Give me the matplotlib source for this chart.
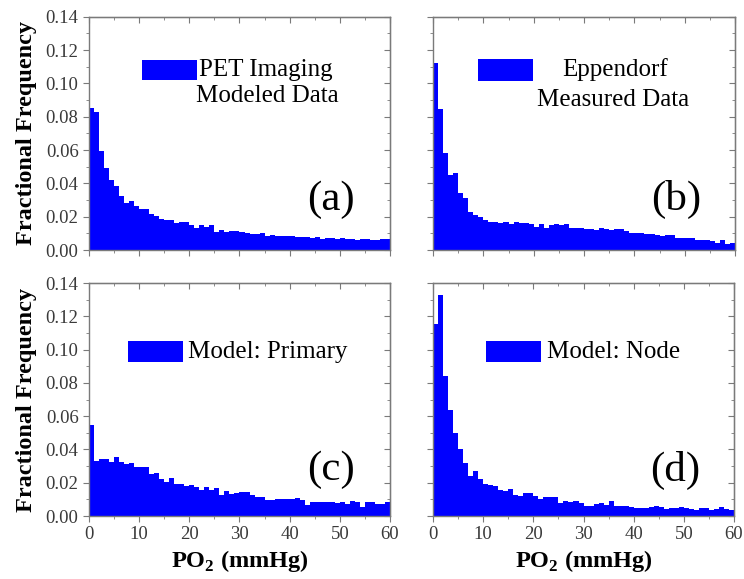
import numpy as np
import matplotlib
matplotlib.use("Agg")
import matplotlib.pyplot as plt
from matplotlib.patches import Rectangle
from matplotlib.ticker import MultipleLocator

plt.rcParams['font.family'] = ['Liberation Serif', 'DejaVu Serif']
plt.rcParams['mathtext.fontset'] = 'custom'
plt.rcParams['mathtext.rm'] = 'Liberation Serif'
plt.rcParams['mathtext.bf'] = 'Liberation Serif:bold'

# 1 mmHg bins, 0..60
bin_edges = np.arange(0, 61, 1)

pet_modeled = [0.085, 0.083, 0.0594, 0.049, 0.042, 0.0384, 0.0324, 0.0284, 0.0294, 0.0264,
               0.0246, 0.0246, 0.0216, 0.0204, 0.0186, 0.018, 0.018, 0.016, 0.017, 0.0166,
               0.015, 0.013, 0.015, 0.014, 0.015, 0.0106, 0.012, 0.011, 0.0114, 0.0114,
               0.011, 0.0104, 0.0098, 0.0094, 0.010, 0.0084, 0.0092, 0.0084, 0.0082, 0.0082,
               0.0084, 0.0078, 0.0078, 0.008, 0.0072, 0.0078, 0.0068, 0.0072, 0.0072, 0.0068,
               0.007, 0.0066, 0.0068, 0.006, 0.0068, 0.0064, 0.006, 0.0062, 0.0066, 0.0064]

eppendorf_measured = [0.112, 0.0846, 0.058, 0.0448, 0.0464, 0.0344, 0.0314, 0.0226, 0.0208, 0.020,
                      0.018, 0.0166, 0.0168, 0.0162, 0.0166, 0.0158, 0.0166, 0.0164, 0.0164, 0.0158,
                      0.014, 0.0156, 0.0132, 0.0152, 0.0154, 0.015, 0.0156, 0.0134, 0.013, 0.013,
                      0.0124, 0.0124, 0.012, 0.0132, 0.0126, 0.012, 0.0124, 0.0128, 0.0116, 0.0104,
                      0.0104, 0.0102, 0.0096, 0.0094, 0.009, 0.0084, 0.0088, 0.0088, 0.007, 0.007,
                      0.0074, 0.0074, 0.006, 0.0058, 0.0058, 0.0056, 0.0044, 0.006, 0.0036, 0.0044]

model_primary = [0.0548, 0.0329, 0.0343, 0.0343, 0.0327, 0.0357, 0.0325, 0.0313, 0.0317, 0.0297,
                 0.0297, 0.0297, 0.0253, 0.0261, 0.0225, 0.0207, 0.0231, 0.0195, 0.0191, 0.018,
                 0.0184, 0.0176, 0.0156, 0.0174, 0.0156, 0.0166, 0.0126, 0.0152, 0.013, 0.0138,
                 0.0144, 0.0146, 0.0128, 0.0112, 0.0112, 0.0096, 0.0096, 0.010, 0.0104, 0.010,
                 0.010, 0.0106, 0.0096, 0.0064, 0.0084, 0.0086, 0.0084, 0.0086, 0.0082, 0.008,
                 0.0084, 0.0074, 0.009, 0.0082, 0.0056, 0.0084, 0.0084, 0.007, 0.007, 0.0082]

model_node = [0.1155, 0.1328, 0.0842, 0.0638, 0.0497, 0.0401, 0.0317, 0.0243, 0.0269, 0.0223,
              0.0191, 0.0187, 0.018, 0.0156, 0.0148, 0.0162, 0.0128, 0.0122, 0.014, 0.0136,
              0.012, 0.010, 0.0112, 0.0112, 0.0112, 0.008, 0.009, 0.0084, 0.009, 0.0078,
              0.0062, 0.006, 0.007, 0.008, 0.0066, 0.0092, 0.006, 0.006, 0.006, 0.0056,
              0.005, 0.0048, 0.0048, 0.0056, 0.006, 0.0056, 0.0042, 0.005, 0.005, 0.0054,
              0.0048, 0.0042, 0.0038, 0.0048, 0.0048, 0.0038, 0.004, 0.0054, 0.0044, 0.0036]

panels = [
    # values, legend lines, letter, axes rect
    (pet_modeled, ['PET Imaging', 'Modeled Data'], '(a)', [0.1196, 0.5682, 0.4046, 0.403]),
    (eppendorf_measured, ['Eppendorf', 'Measured Data'], '(b)', [0.582, 0.5682, 0.406, 0.403]),
    (model_primary, ['Model: Primary'], '(c)', [0.1196, 0.1088, 0.4046, 0.4024]),
    (model_node, ['Model: Node'], '(d)', [0.582, 0.1088, 0.4046, 0.4024]),
]

bar_color = '#0000ff'
axis_gray = '#7a7a7a'
tick_gray = '#3a3a3a'
leg_size = 18

fig = plt.figure(figsize=(7.44, 5.79), dpi=100)

for i, (vals, leg_lines, letter, rect) in enumerate(panels):
    ax = fig.add_axes(rect)
    ax.stairs(vals, bin_edges, fill=True, color=bar_color, linewidth=0)
    ax.set_xlim(0, 60)
    ax.set_ylim(0, 0.14)

    ax.xaxis.set_major_locator(MultipleLocator(10))
    ax.xaxis.set_minor_locator(MultipleLocator(5))
    ax.yaxis.set_major_locator(MultipleLocator(0.02))
    ax.yaxis.set_minor_locator(MultipleLocator(0.01))
    ax.yaxis.set_major_formatter(plt.FormatStrFormatter('%.2f'))
    ax.tick_params(which='both', direction='out', colors=axis_gray, labelcolor=tick_gray,
                   labelsize=13.5)
    ax.tick_params(which='major', length=4)
    ax.tick_params(which='minor', length=2.5)
    for s in ax.spines.values():
        s.set_color(axis_gray)
        s.set_linewidth(1.0)

    # mirrored inward ticks on top and right
    top = ax.secondary_xaxis('top')
    top.xaxis.set_major_locator(MultipleLocator(10))
    top.xaxis.set_minor_locator(MultipleLocator(5))
    top.tick_params(which='both', direction='in', colors=axis_gray, labeltop=False)
    top.tick_params(which='major', length=4)
    top.tick_params(which='minor', length=2.5)
    right = ax.secondary_yaxis('right')
    right.yaxis.set_major_locator(MultipleLocator(0.02))
    right.yaxis.set_minor_locator(MultipleLocator(0.01))
    right.tick_params(which='both', direction='in', colors=axis_gray, labelright=False)
    right.tick_params(which='major', length=4)
    right.tick_params(which='minor', length=2.5)

    if i < 2:
        ax.tick_params(labelbottom=False)
    else:
        ax.set_xlabel(r'PO$_\mathbf{2}$ (mmHg)', fontsize=17.5, fontweight='bold', labelpad=3)
    if i % 2 == 1:
        ax.tick_params(labelleft=False)
    else:
        ax.set_ylabel('Fractional Frequency', fontsize=17.5, fontweight='bold', labelpad=6)

    # legend-like key
    if i == 0:
        ax.add_patch(Rectangle((0.176, 0.730), 0.183, 0.085, transform=ax.transAxes,
                               color=bar_color, lw=0))
        ax.text(0.365, 0.773, leg_lines[0], transform=ax.transAxes, fontsize=leg_size,
                ha='left', va='center')
        ax.text(0.591, 0.661, leg_lines[1], transform=ax.transAxes, fontsize=leg_size,
                ha='center', va='center')
    elif i == 1:
        ax.add_patch(Rectangle((0.149, 0.725), 0.182, 0.095, transform=ax.transAxes,
                               color=bar_color, lw=0))
        ax.text(0.603, 0.773, leg_lines[0], transform=ax.transAxes, fontsize=leg_size,
                ha='center', va='center')
        ax.text(0.596, 0.644, leg_lines[1], transform=ax.transAxes, fontsize=leg_size,
                ha='center', va='center')
    elif i == 2:
        ax.add_patch(Rectangle((0.130, 0.662), 0.182, 0.090, transform=ax.transAxes,
                               color=bar_color, lw=0))
        ax.text(0.329, 0.705, leg_lines[0], transform=ax.transAxes, fontsize=leg_size,
                ha='left', va='center')
    else:
        ax.add_patch(Rectangle((0.176, 0.662), 0.183, 0.090, transform=ax.transAxes,
                               color=bar_color, lw=0))
        ax.text(0.378, 0.705, leg_lines[0], transform=ax.transAxes, fontsize=leg_size,
                ha='left', va='center')

    ly = 0.215 if i < 2 else 0.197
    ax.text(0.805, ly, letter, transform=ax.transAxes, fontsize=31,
            ha='center', va='center')

fig.savefig('out.png', dpi=100)
